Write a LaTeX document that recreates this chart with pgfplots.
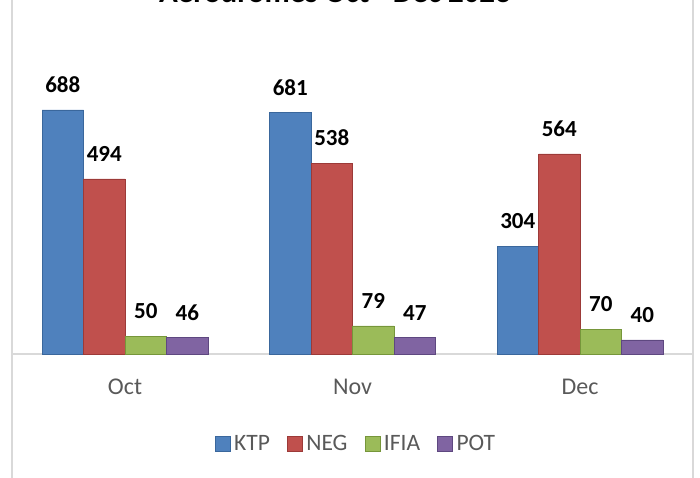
\documentclass[border=0pt]{standalone}
\usepackage{fontspec}
\setmainfont{Carlito}
\usepackage{pgfplots}
\pgfplotsset{compat=1.18}
\definecolor{ktp}{HTML}{4F81BD}
\definecolor{ktpd}{HTML}{3A679C}
\definecolor{neg}{HTML}{C0504D}
\definecolor{negd}{HTML}{9C3A38}
\definecolor{ifia}{HTML}{9BBB59}
\definecolor{ifiad}{HTML}{76963A}
\definecolor{pot}{HTML}{8064A2}
\definecolor{potd}{HTML}{5E4880}
\definecolor{txtgray}{HTML}{595959}
\definecolor{framegray}{HTML}{D9D9D9}
\pgfplotsset{ybar legend/.style={legend image code/.code={\draw[##1] (0pt,-7.5pt) rectangle (15pt,7.5pt);}}}
\begin{document}
\begin{tikzpicture}[x=1pt,y=1pt]
\path[use as bounding box] (0,0) rectangle (700,477);
\begin{scope}
\clip (0,0) rectangle (700,477);
\draw[framegray, line width=1.5pt] (12,-10) rectangle (693,490);
\node[anchor=base, font=\fontsize{31}{36}\selectfont\bfseries, inner sep=0pt] at (335,474) {Aerodromes Oct - Dec 2023};
\end{scope}
\begin{axis}[
  at={(11.25pt,123pt)}, anchor=south west,
  scale only axis, width=682.5pt, height=283.8pt,
  xmin=-0.5, xmax=2.5, ymin=0, ymax=800,
  ybar=0pt, bar width=41.5pt,
  axis y line=none, axis x line*=bottom,
  x axis line style={framegray, line width=1.5pt, -},
  xtick={0,1,2}, xticklabels={Oct,Nov,Dec},
  major tick length=0pt,
  xticklabel style={font=\fontsize{24}{28}\selectfont, text=txtgray, anchor=center, yshift=-33pt},
  /pgf/number format/assume math mode=true,
  nodes near coords={\pgfmathprintnumber[assume math mode=true]{\pgfplotspointmeta}},
  nodes near coords style={font=\fontsize{23}{27}\selectfont\bfseries, text=black, anchor=south, inner sep=0pt, yshift=17pt},
  legend columns=4,
  legend style={at={(axis description cs:0.505,-0.317)}, anchor=center, draw=none, fill=none,
    font=\fontsize{23.5}{27}\selectfont, text=txtgray,
    nodes={inner sep=2pt},
    /tikz/every odd column/.append style={column sep=2pt},
    /tikz/every even column/.append style={column sep=15pt}},
]
\addplot[fill=ktp, draw=ktpd] coordinates {(0,688) (1,681) (2,304)};
\addplot[fill=neg, draw=negd] coordinates {(0,494) (1,538) (2,564)};
\addplot[fill=ifia, draw=ifiad] coordinates {(0,50) (1,79) (2,70)};
\addplot[fill=pot, draw=potd] coordinates {(0,46) (1,47) (2,40)};
\legend{KTP,NEG,IFIA,POT}
\end{axis}
\end{tikzpicture}
\end{document}
